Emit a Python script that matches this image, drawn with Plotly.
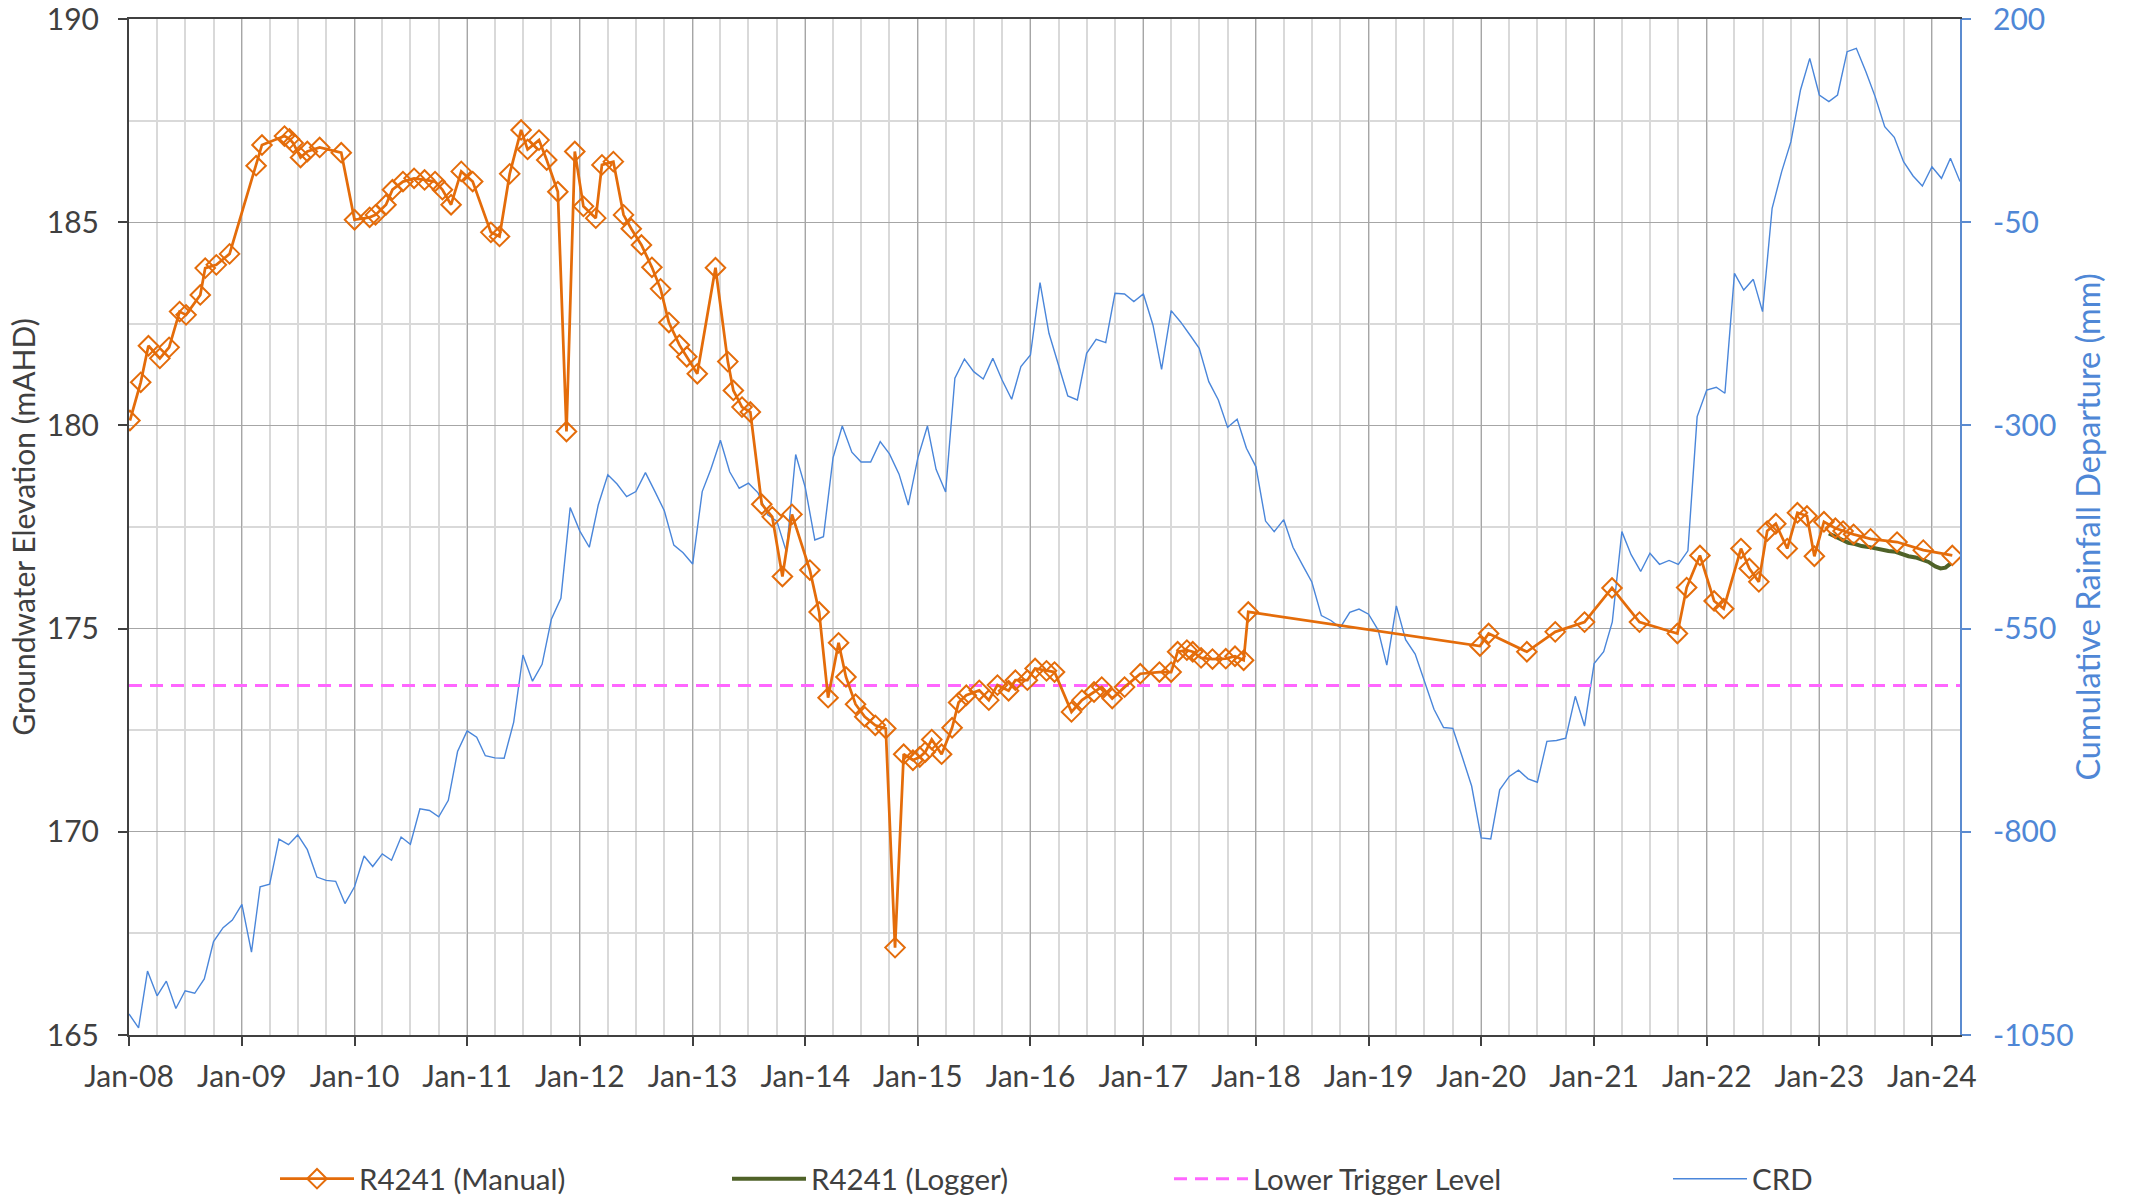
import plotly.graph_objects as go
import pandas as pd

# ---------------- data ----------------
manual_dates = [
    "2008-01-04", "2008-02-08", "2008-03-04", "2008-04-10", "2008-05-10", "2008-06-13",
    "2008-07-04", "2008-08-19", "2008-09-04", "2008-10-10", "2008-11-22", "2009-02-16",
    "2009-03-07", "2009-05-19", "2009-06-04", "2009-06-16", "2009-07-10", "2009-08-01",
    "2009-09-10", "2009-11-19", "2010-01-01", "2010-02-19", "2010-03-10", "2010-04-13",
    "2010-05-04", "2010-06-07", "2010-07-13", "2010-08-16", "2010-09-19", "2010-10-13",
    "2010-11-10", "2010-12-13", "2011-01-19", "2011-03-19", "2011-04-16", "2011-05-19",
    "2011-06-25", "2011-07-16", "2011-08-22", "2011-09-16", "2011-10-22", "2011-11-19",
    "2011-12-16", "2012-01-13", "2012-02-22", "2012-03-13", "2012-04-19", "2012-05-22",
    "2012-06-16", "2012-07-19", "2012-08-22", "2012-09-19", "2012-10-16", "2012-11-19",
    "2012-12-13", "2013-01-16", "2013-03-16", "2013-04-25", "2013-05-13", "2013-06-10",
    "2013-07-07", "2013-08-13", "2013-09-16", "2013-10-19", "2013-11-19", "2014-01-16",
    "2014-02-15", "2014-03-16", "2014-04-19", "2014-05-13", "2014-06-13", "2014-07-13",
    "2014-08-16", "2014-09-19", "2014-10-19", "2014-11-16", "2014-12-16", "2015-01-07",
    "2015-01-25", "2015-02-15", "2015-03-19", "2015-04-22", "2015-05-13", "2015-06-07",
    "2015-07-19", "2015-08-19", "2015-09-16", "2015-10-22", "2015-11-13", "2015-12-22",
    "2016-01-16", "2016-02-22", "2016-03-19", "2016-05-13", "2016-06-16", "2016-07-25",
    "2016-08-19", "2016-09-22", "2016-11-01", "2016-12-22", "2017-02-22", "2017-04-01",
    "2017-04-22", "2017-05-22", "2017-06-10", "2017-07-07", "2017-08-13", "2017-09-25",
    "2017-10-25", "2017-11-22", "2017-12-07", "2019-12-28", "2020-01-25", "2020-05-28",
    "2020-08-28", "2020-12-01", "2021-02-28", "2021-05-28", "2021-09-28", "2021-10-28",
    "2021-12-10", "2022-01-25", "2022-02-25", "2022-04-22", "2022-05-19", "2022-06-19",
    "2022-07-16", "2022-08-13", "2022-09-19", "2022-10-22", "2022-11-22", "2022-12-16",
    "2023-01-16", "2023-02-22", "2023-03-19", "2023-04-22", "2023-06-16", "2023-09-10",
    "2023-12-04", "2024-03-07",
]
manual_levels = [
    180.12, 181.06, 181.96, 181.65, 181.92, 182.80, 182.72, 183.21, 183.87, 183.95,
    184.22, 186.39, 186.90, 187.12, 187.05, 186.95, 186.59, 186.74, 186.84, 186.71,
    185.06, 185.12, 185.18, 185.43, 185.80, 186.00, 186.08, 186.04, 186.00, 185.80,
    185.43, 186.25, 186.00, 184.75, 184.65, 186.19, 187.27, 186.79, 187.02, 186.53,
    185.75, 179.85, 186.74, 185.39, 185.10, 186.41, 186.49, 185.18, 184.84, 184.44,
    183.89, 183.36, 182.53, 181.98, 181.69, 181.27, 183.88, 181.57, 180.86, 180.45,
    180.33, 178.06, 177.75, 176.28, 177.81, 176.44, 175.41, 173.30, 174.65, 173.81,
    173.14, 172.83, 172.62, 172.54, 167.15, 171.91, 171.76, 171.84, 171.96, 172.27,
    171.91, 172.56, 173.18, 173.36, 173.48, 173.24, 173.61, 173.47, 173.73, 173.73,
    174.02, 173.96, 173.93, 172.95, 173.24, 173.44, 173.56, 173.28, 173.56, 173.89,
    173.93, 173.93, 174.43, 174.47, 174.43, 174.28, 174.25, 174.26, 174.32, 174.22,
    175.41, 174.57, 174.88, 174.43, 174.92, 175.16, 176.00, 175.16, 174.88, 176.01,
    176.80, 175.68, 175.49, 176.97, 176.48, 176.15, 177.40, 177.58, 176.97, 177.85,
    177.77, 176.78, 177.63, 177.47, 177.40, 177.32, 177.21, 177.13, 176.93, 176.80,
]

logger_dates = [
    "2023-02-01", "2023-02-23", "2023-03-14", "2023-04-05", "2023-04-27", "2023-05-18",
    "2023-06-09", "2023-07-01", "2023-07-22", "2023-08-13", "2023-09-05", "2023-09-26",
    "2023-10-17", "2023-11-09", "2023-11-30", "2023-12-21", "2024-01-12", "2024-01-29",
    "2024-02-14", "2024-03-01",
]
logger_levels = [
    177.34, 177.26, 177.19, 177.11, 177.08, 177.03, 177.01, 176.97, 176.93, 176.91,
    176.89, 176.83, 176.78, 176.75, 176.70, 176.64, 176.53, 176.48, 176.50, 176.60,
]

trigger_dates = ["2008-01-01", "2024-04-01"]
trigger_levels = [173.6, 173.6]

crd_dates = pd.date_range("2008-01-01", "2024-04-01", freq="MS")
crd_values = [
    -1024.1, -1041.2, -971.3, -1001.8, -983.7, -1017.4, -995.6, -998.7, -981.1, -935.0,
    -917.9, -908.6, -889.4, -948.0, -867.6, -864.5, -809.0, -815.8, -803.9, -822.0,
    -855.7, -859.8, -860.9, -888.3, -867.6, -829.8, -842.7, -827.2, -835.0, -806.4,
    -815.3, -771.7, -773.8, -781.6, -761.3, -701.2, -675.8, -683.6, -706.4, -709.0,
    -709.5, -665.0, -582.5, -614.7, -594.0, -538.5, -512.6, -401.1, -429.7, -449.9,
    -398.0, -360.7, -372.1, -387.7, -381.4, -358.1, -381.4, -404.8, -447.3, -456.6,
    -470.6, -381.4, -354.0, -318.2, -357.1, -377.3, -371.1, -383.0, -410.0, -417.7,
    -455.6, -335.8, -376.3, -441.0, -436.9, -340.0, -300.7, -333.0, -345.0, -345.0,
    -320.0, -335.0, -360.0, -398.0, -340.0, -300.7, -354.0, -382.0, -242.0, -218.3,
    -233.9, -242.9, -217.5, -244.1, -267.9, -227.7, -213.4, -124.4, -186.7, -225.7,
    -263.8, -268.7, -211.3, -194.1, -198.2, -137.5, -138.3, -147.7, -138.3, -176.4,
    -231.0, -158.8, -172.4, -188.8, -205.2, -246.2, -268.7, -302.4, -292.5, -328.2,
    -351.0, -417.7, -430.7, -416.0, -450.0, -472.0, -492.7, -534.0, -540.0, -548.8,
    -530.0, -526.0, -532.3, -551.8, -594.9, -522.0, -563.6, -581.3, -613.8, -649.2,
    -671.7, -672.8, -708.3, -743.7, -807.5, -808.7, -748.4, -731.9, -724.2, -734.9,
    -739.0, -688.8, -687.6, -684.7, -633.3, -669.9, -593.1, -578.3, -541.7, -430.7,
    -459.0, -479.7, -457.3, -470.9, -466.1, -470.9, -454.3, -289.2, -256.4, -253.1,
    -260.5, -112.9, -133.4, -120.3, -160.0, -32.9, 12.2, 49.1, 112.7, 151.6,
    106.5, 98.3, 106.5, 159.8, 163.9, 135.2, 104.5, 67.6, 54.4, 24.5,
    6.9, -5.4, 18.3, 4.0, 28.6, 0.0,
]

year_ticks = [f"{y}-01-01" for y in range(2008, 2025)]
year_labels = [f"Jan-{str(y)[2:]}" for y in range(2008, 2025)]
crd_tick_vals = [-1050, -800, -550, -300, -50, 200]
crd_tick_text = ["-1050", "-800", "-550", "-300", "-50", "200"]

# ---------------- style ----------------
FONT = "Lato"
DARK = "#404040"
ORANGE = "#E46C0A"
GREEN = "#4F6228"
MAGENTA = "#FF66FF"
BLUE_LINE = "#4A86DA"
BLUE_TEXT = "#4F87D6"
FS = 30

fig = go.Figure()

# CRD on the base axis (drawn underneath), shown on the right
fig.add_trace(go.Scatter(
    x=crd_dates, y=crd_values, name="CRD", mode="lines",
    line=dict(color=BLUE_LINE, width=1.4), yaxis="y", legend="legend4",
))
fig.add_trace(go.Scatter(
    x=trigger_dates, y=trigger_levels, name="Lower Trigger Level", mode="lines",
    line=dict(color=MAGENTA, width=3, dash="13px,8px"), yaxis="y2", legend="legend3",
))
fig.add_trace(go.Scatter(
    x=logger_dates, y=logger_levels, name="R4241 (Logger)", mode="lines",
    line=dict(color=GREEN, width=4), yaxis="y2", legend="legend2",
))
fig.add_trace(go.Scatter(
    x=manual_dates, y=manual_levels, name="R4241 (Manual)", mode="lines+markers",
    line=dict(color=ORANGE, width=2.75),
    marker=dict(symbol="diamond-open", size=15, color=ORANGE, line=dict(color=ORANGE, width=2)),
    yaxis="y2", legend="legend",
))

L, R, T, B = 129, 1960, 19, 1035
W, H = 2130, 1199


def px2paper_x(px):
    return (px - L) / (R - L)


leg_y = -(1179 - B) / (B - T)
legend_common = dict(
    orientation="h", yanchor="middle", y=leg_y, xanchor="left",
    font=dict(family=FONT, size=29.5, color=DARK), bgcolor="rgba(0,0,0,0)",
    itemwidth=74,
)

fig.update_layout(
    width=W, height=H,
    margin=dict(l=L, r=W - R, t=T, b=H - B, autoexpand=False),
    paper_bgcolor="white", plot_bgcolor="white",
    font=dict(family=FONT, size=FS, color=DARK),
    showlegend=True,
    legend=dict(legend_common, x=px2paper_x(275)),
    legend2=dict(legend_common, x=px2paper_x(727)),
    legend3=dict(legend_common, x=px2paper_x(1169)),
    legend4=dict(legend_common, x=px2paper_x(1668)),
    xaxis=dict(
        type="date", range=["2008-01-01", "2024-04-01"],
        tickvals=year_ticks, ticktext=year_labels,
        showgrid=True, gridcolor="#A6A6A6", gridwidth=1,
        minor=dict(dtick="M3", tick0="2008-01-01", showgrid=True, gridcolor="#D9D9D9", gridwidth=1.5),
        showline=True, linecolor=DARK, linewidth=2, mirror=True,
        ticks="outside", ticklen=9, tickcolor=DARK, tickwidth=1.5,
        tickfont=dict(family=FONT, size=FS, color=DARK), ticklabelstandoff=5,
        ticklabeloverflow="allow", zeroline=False,
    ),
    yaxis=dict(
        side="right", range=[-1050, 200],
        tickmode="array", tickvals=crd_tick_vals, ticktext=crd_tick_text,
        showgrid=False, zeroline=False,
        showline=True, linecolor="#5B8BD0", linewidth=2,
        ticks="outside", ticklen=9, tickcolor="#5B8BD0", tickwidth=1.5,
        tickfont=dict(family=FONT, size=FS, color=BLUE_TEXT), ticklabelstandoff=16,
        ticklabeloverflow="allow",
        title=dict(text="Cumulative Rainfall Departure (mm)",
                   font=dict(family=FONT, size=32.5, color=BLUE_TEXT), standoff=4),
    ),
    yaxis2=dict(
        overlaying="y", side="left", range=[165, 190], tickmode="linear", tick0=165, dtick=5,
        showgrid=True, gridcolor="#A6A6A6", gridwidth=1,
        minor=dict(dtick=2.5, tick0=165, showgrid=True, gridcolor="#D9D9D9", gridwidth=2),
        zeroline=False,
        showline=True, linecolor=DARK, linewidth=2,
        ticks="outside", ticklen=9, tickcolor=DARK, tickwidth=1.5,
        tickfont=dict(family=FONT, size=FS, color=DARK), ticklabelstandoff=13,
        ticklabeloverflow="allow",
        title=dict(text="Groundwater Elevation (mAHD)",
                   font=dict(family=FONT, size=FS, color=DARK), standoff=2),
    ),
)

fig.write_html(
    "out.html",
    config={"displayModeBar": False},
    post_script="document.body.style.margin='0';document.body.style.overflow='hidden';",
)
